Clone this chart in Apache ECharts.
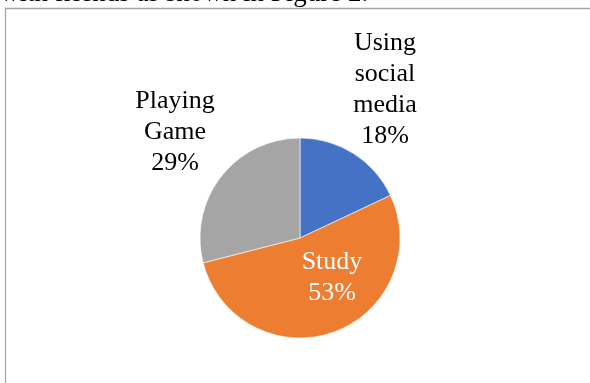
<!DOCTYPE html>
<html>
<head>
<meta charset="utf-8">
<script src="https://cdn.jsdelivr.net/npm/echarts@6/dist/echarts.min.js"></script>
<style>
  html, body { margin: 0; padding: 0; background: #ffffff; }
  #chart { width: 590px; height: 383px; }
</style>
</head>
<body>
<div id="chart"></div>
<script>
// Daily activities share
const categories = ['Using social media', 'Study', 'Playing Game'];
const shares = [18, 53, 29];
const sliceColors = ['#4472C4', '#ED7D31', '#A5A5A5'];
const labelColors = ['#000000', '#ffffff', '#000000'];
// label block centres (px) for each slice
const labelAnchors = [[385, 90], [332, 278], [175, 132]];

const chart = echarts.init(document.getElementById('chart'), null, { renderer: 'canvas' });

const serif = '"Liberation Serif", "Times New Roman", serif';

chart.setOption({
  animation: false,
  backgroundColor: '#ffffff',
  graphic: [
    {
      // running text above the chart frame
      type: 'text',
      x: 0,
      y: -6,
      style: {
        text: 'with friends as shown in Figure 2.',
        font: '27px ' + serif,
        fill: '#000000',
        align: 'left',
        verticalAlign: 'middle'
      },
      z: 1
    },
    {
      type: 'rect',
      shape: { x: 5.5, y: 8.5, width: 700, height: 500 },
      style: { fill: null, stroke: '#a6a6a6', lineWidth: 1.3 },
      z: 2
    }
  ],
  series: [{
    type: 'pie',
    center: [300, 238],
    radius: [0, 100],
    startAngle: 90,
    clockwise: true,
    percentPrecision: 0,
    avoidLabelOverlap: false,
    itemStyle: { borderColor: '#ffffff', borderWidth: 0.6 },
    label: {
      show: true,
      position: 'inside',
      fontFamily: serif,
      fontSize: 26,
      lineHeight: 31,
      align: 'center',
      formatter: p => p.name.split(' ').join('\n') + '\n' + p.percent + '%'
    },
    labelLine: { show: false },
    labelLayout: p => ({
      x: labelAnchors[p.dataIndex][0],
      y: labelAnchors[p.dataIndex][1],
      align: 'center',
      verticalAlign: 'middle'
    }),
    emphasis: { disabled: true },
    data: categories.map((name, i) => ({
      name: name,
      value: shares[i],
      itemStyle: { color: sliceColors[i] },
      label: { color: labelColors[i] }
    }))
  }]
});
</script>
</body>
</html>
